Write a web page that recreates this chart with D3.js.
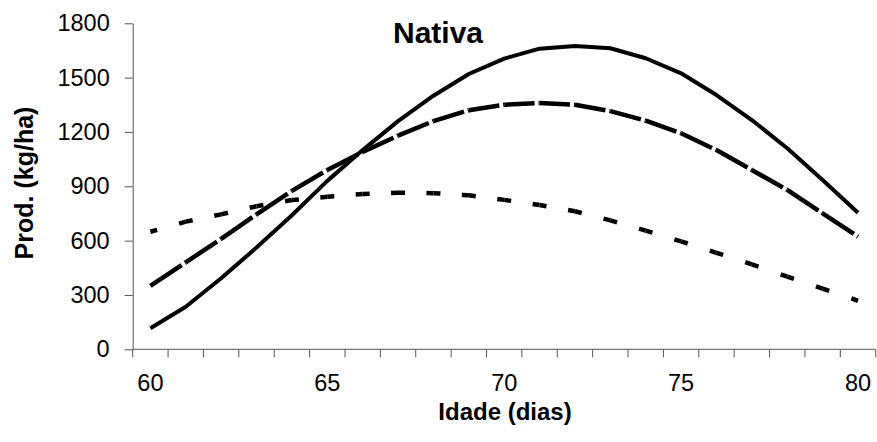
<!DOCTYPE html>
<html>
<head>
<meta charset="utf-8">
<script src="https://cdn.jsdelivr.net/npm/d3@7"></script>
<style>
  html, body { margin: 0; padding: 0; background: #fff; }
  svg { display: block; }
  text { font-family: "Liberation Sans", Arial, sans-serif; fill: #000; }
</style>
</head>
<body>
<svg id="chart" width="877" height="442"></svg>
<script>
const categories = [60, 61, 62, 63, 64, 65, 66, 67, 68, 69, 70, 71, 72, 73, 74, 75, 76, 77, 78, 79, 80];
const solidSeries = [116, 235, 392, 562, 740, 930, 1100, 1260, 1400, 1520, 1605, 1660, 1675, 1662, 1607, 1524, 1404, 1266, 1110, 935, 754];
const longDashSeries = [350, 480, 610, 745, 875, 990, 1090, 1180, 1260, 1320, 1350, 1360, 1350, 1315, 1262, 1193, 1100, 990, 880, 751, 622];
const shortDashSeries = [649, 705, 745, 790, 824, 842, 858, 865, 862, 850, 825, 797, 762, 712, 655, 596, 533, 469, 401, 335, 268];
const yTickValues = [0, 300, 600, 900, 1200, 1500, 1800];
const xTickLabels = [60, 65, 70, 75, 80];
const chartTitle = "Nativa";
const xTitle = "Idade (dias)";
const yTitle = "Prod. (kg/ha)";

(function () {
const svg = d3.select("#chart");
const pLeft = 132.7, pRight = 875.7, pTop = 23.3, pBottom = 349.3;

const x = d3.scaleBand().domain(categories).range([pLeft, pRight]).padding(0);
const cx = c => x(c) + x.bandwidth() / 2;
const y = d3.scaleLinear().domain([0, 1800]).range([pBottom, pTop]);

const axisColor = "#555";

// Y axis
const yAxis = svg.append("g").attr("transform", `translate(${pLeft},0)`)
  .call(d3.axisLeft(y).tickValues(yTickValues).tickSize(8).tickSizeOuter(0).tickPadding(15).tickFormat(d3.format("d")));
yAxis.select(".domain").attr("stroke", axisColor);
yAxis.selectAll(".tick line").attr("stroke", axisColor);
yAxis.selectAll(".tick text").style("font-size", "23.5px").attr("font-family", null);

// X axis line
const xg = svg.append("g");
xg.append("line").attr("x1", pLeft).attr("x2", pRight).attr("y1", pBottom).attr("y2", pBottom)
  .attr("stroke", axisColor).attr("stroke-width", 1);
const boundaries = categories.map(c => x(c)).concat([x(categories[categories.length - 1]) + x.bandwidth()]);
xg.selectAll("line.tk").data(boundaries).enter().append("line")
  .attr("class", "tk")
  .attr("x1", d => d).attr("x2", d => d)
  .attr("y1", pBottom).attr("y2", pBottom + 8)
  .attr("stroke", axisColor).attr("stroke-width", 1);
xg.selectAll("text").data(xTickLabels).enter().append("text")
  .attr("x", d => cx(d)).attr("y", pBottom + 42)
  .attr("text-anchor", "middle")
  .style("font-size", "23.5px")
  .text(d => d);

// Titles
svg.append("text").attr("x", 438).attr("y", 43).attr("text-anchor", "middle")
  .style("font-size", "30px").style("font-weight", "bold").text(chartTitle);
svg.append("text").attr("x", 505).attr("y", 420).attr("text-anchor", "middle")
  .style("font-size", "24px").style("font-weight", "bold").text(xTitle);
svg.append("text").attr("transform", "translate(33,183) rotate(-90)").attr("text-anchor", "middle")
  .style("font-size", "25px").style("font-weight", "bold").text(yTitle);

// Lines
const pts = vals => categories.map((c, i) => [cx(c), y(vals[i])]);
const lineGen = d3.line();

svg.append("path").attr("d", lineGen(pts(solidSeries)))
  .attr("fill", "none").attr("stroke", "#000").attr("stroke-width", 4).attr("stroke-linejoin", "round");

function dashedSegments(vals, dashFn) {
  const p = pts(vals);
  const g = svg.append("g");
  for (let i = 0; i < p.length - 1; i++) {
    const a = p[i], b = p[i + 1];
    const L = Math.hypot(b[0] - a[0], b[1] - a[1]);
    g.append("line").attr("x1", a[0]).attr("y1", a[1]).attr("x2", b[0]).attr("y2", b[1])
      .attr("stroke", "#000").attr("stroke-width", 4.5)
      .attr("stroke-dasharray", dashFn(L));
  }
}
dashedSegments(longDashSeries, L => `${Math.max(L - 5, 1)},4,${L}`);
dashedSegments(shortDashSeries, L => `7,${Math.max(L - 14, 1)},${L}`);
})();
</script>
</body>
</html>
